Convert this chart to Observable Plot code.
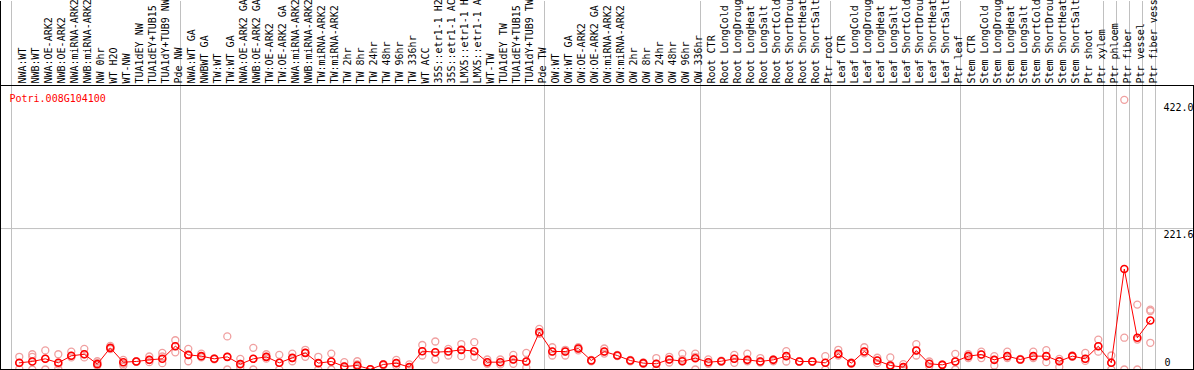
<!DOCTYPE html>
<html>
<head>
<meta charset="utf-8">
<script src="https://cdn.jsdelivr.net/npm/d3@7"></script>
<script src="https://cdn.jsdelivr.net/npm/@observablehq/plot@0.6"></script>
<style>
  html, body { margin: 0; padding: 0; background: white; }
  #chart svg { display: block; }
</style>
</head>
<body>
<div id="chart"></div>
<script>
const geneId = "Potri.008G104100";

// column labels as shown (the reference truncates long names at the top edge)
const labels = [
  "NWA:WT","NWB:WT","NWA:OE-ARK2","NWB:OE-ARK2","NWA:miRNA-ARK2","NWB:miRNA-ARK2","NW 0hr","WT H2O","WT-NW","TUA1dEY NW","TUA1dEY+TUB15","TUA1dY+TUB9 NW","Pde NW",
  "NWA:WT GA","NWBWT GA","TW:WT","TW:WT GA","NWA:OE-ARK2 GA","NWB:OE-ARK2 GA","TW:OE-ARK2","TW:OE-ARK2 GA","NWA:miRNA-ARK2","NWB:miRNA-ARK2","TW:miRNA-ARK2","TW:miRNA-ARK2","TW 2hr","TW 8hr","TW 24hr","TW 48hr","TW 96hr","TW 336hr","WT ACC","35S::etr1-1 H2","35S::etr1-1 AC","LMX5::etr1-1 H","LMX5::etr1-1 A","WT-TW","TUA1dEY TW","TUA1dEY+TUB15","TUA1dY+TUB9 TW","Pde TW",
  "OW:WT","OW:WT GA","OW:OE-ARK2","OW:OE-ARK2 GA","OW:miRNA-ARK2","OW:miRNA-ARK2","OW 2hr","OW 8hr","OW 24hr","OW 48hr","OW 96hr","OW 336hr",
  "Root CTR","Root LongCold","Root LongDroug","Root LongHeat","Root LongSalt","Root ShortCold","Root ShortDrou","Root ShortHeat","Root ShortSalt","Ptr root",
  "Leaf CTR","Leaf LongCold","Leaf LongDroug","Leaf LongHeat","Leaf LongSalt","Leaf ShortCold","Leaf ShortDrou","Leaf ShortHeat","Leaf ShortSalt","Ptr leaf",
  "Stem CTR","Stem LongCold","Stem LongDroug","Stem LongHeat","Stem LongSalt","Stem ShortCold","Stem ShortDrou","Stem ShortHeat","Stem ShortSalt","Ptr shoot","Ptr xylem",
  "Ptr phloem","Ptr fiber","Ptr vessel","Ptr fiber vess"
];

// group boundaries (index of first column of each group, plus the end)
const groupStarts = [0, 13, 41, 53, 63, 73, 84, 85, 86, 87, 88];

const means = [
  10.5,12.6,16.8,10.5,21.5,24,8.4,34,11.5,12.6,15.2,16.8,36.6,
  23,21,16.8,19.9,8.4,16.8,19.9,10.5,18.3,26.2,10,12.6,4.7,6.3,0.3,7.9,10,3.7,28.8,27.2,28.3,30.9,28.8,11.5,11.5,15.7,12.6,58.6,
  28.3,28.3,33,14.1,28.3,22,14.1,10,9,15.7,13,17.8,
  11.5,13,16.8,15.2,12.6,15.2,21,12.6,12.6,10.5,
  24.6,10,28.3,14.1,6.3,3.7,29.8,9,7.3,12.6,
  21,23.6,15.2,21,15.7,21,21,13,21,16.8,36.6,
  10.5,158,49.8,77
];

const repA = [
  20,24,30,24,28,32.5,13,37,15,13,20.4,26,46,
  32.5,25,17.5,52,16.8,34,24,23,25,31,20,25,11.5,13,0.5,8.5,15,8,38.5,44,32.5,40,43,15.7,15.7,23,26,63.8,
  35,31,35,15,33,23,15,11,18,20,25,25,
  16,14,23,25,18,16,28.8,13,13,21,
  31,11,35,18.5,19,8.5,39.8,12.6,8,24.6,
  24,28,21,28,16.5,28,30.5,16.8,22,26,47,
  22,424,102,94
];
const repB = [
  10,20,17,8,21.5,24,10.5,34,9,12.6,15,20.4,36.6,
  23,21,16.8,20,9,16.8,20,10.5,18,26,10,12.6,4.7,8,0,8,10,3.7,28.8,27,28,31,29,11.5,11.5,15.7,12.6,58.6,
  28,28,32.5,14,28,22,14,10,9,15.7,15.7,20,
  11.5,13,17,15,12.6,15.2,21,12.6,12.6,10.5,
  24.6,10,28,14,7,3.7,29.8,9,7.3,12.6,
  21,23.6,15.2,21,15.7,21,21,13,21,16.8,36.6,
  10.5,50,47,92
];
const repC = [
  1,0,0,1,19,19,6,32,6,12,11.5,10,27,
  13,19,16,0,3,0,17,0,13,20,0,0,3,3.7,0,6.5,6,0,22,15.7,22,21,20,9,8,9,3,56,
  22,22,30,13,25,21,13,9,0,11,13,0,
  9,12,10.5,13,11,13,12.6,12,12,0,
  22,9,25.5,10,4.4,0,22,5,7,0,
  18,18,6.3,18,15,18,11.5,4,20,13.5,28,
  0,0,0,42
];

const yLabelsTop = [422.0, 221.6];
const yLabelsBottom = [0];
const yGrid = [221.6];

const X_OFF = 0.6; // point position within a column
const rows = means.map((m, i) => ({i, x: i + X_OFF, mean: m, label: labels[i]}));
const reps = [];
means.forEach((m, i) => {
  [repA[i], repB[i], repC[i]].forEach(v => reps.push({x: i + X_OFF, v}));
});

const W = 1194, H = 370;
const xMin = -11 / 13, xMax = 1182 / 13;

const chart = Plot.plot({
  width: W,
  height: H,
  marginTop: 85,
  marginBottom: 1,
  marginLeft: 0,
  marginRight: 1,
  x: {domain: [xMin, xMax], axis: null},
  y: {domain: [0, 446.5], axis: null},
  style: {fontFamily: "'DejaVu Sans Mono', monospace", fontSize: "10px", background: "white", color: "black"},
  marks: [
    Plot.gridX(groupStarts, {stroke: "#c0c0c0", strokeOpacity: 1}),
    Plot.axisX(groupStarts, {anchor: "top", tickSize: 85, stroke: "#c0c0c0", strokeOpacity: 1, tickFormat: () => "", label: null}),
    Plot.axisX([xMin], {anchor: "top", tickSize: 85, stroke: "black", tickFormat: () => "", label: null}),
    Plot.gridY(yGrid, {stroke: "#c0c0c0", strokeOpacity: 1}),
    Plot.text(rows, {x: "x", text: "label", frameAnchor: "top", dy: -2, rotate: -90, textAnchor: "start", fill: "black"}),
    Plot.dot(reps, {x: "x", y: "v", r: 3.5, stroke: "#f0a0a0", strokeWidth: 1.3, fill: "none"}),
    Plot.line(rows, {x: "x", y: "mean", stroke: "#ff0000", strokeWidth: 1}),
    Plot.dot(rows, {x: "x", y: "mean", r: 3.5, stroke: "#ff0000", strokeWidth: 1.6, fill: "none"}),
    Plot.text(yLabelsTop, {y: d => d, text: d => d.toFixed(1), frameAnchor: "right", textAnchor: "start", dx: -30, lineAnchor: "top", dy: 2.5, fill: "black"}),
    Plot.text(yLabelsBottom, {y: d => d, text: d => String(d), frameAnchor: "right", textAnchor: "start", dx: -29, lineAnchor: "bottom", dy: -3.5, fill: "black"}),
    Plot.text([geneId], {text: d => d, frameAnchor: "top-left", dx: 9, dy: 9, textAnchor: "start", lineAnchor: "top", fill: "#ff0000"}),
    Plot.frame({stroke: "black"})
  ]
});
document.getElementById("chart").appendChild(chart);
</script>
</body>
</html>
